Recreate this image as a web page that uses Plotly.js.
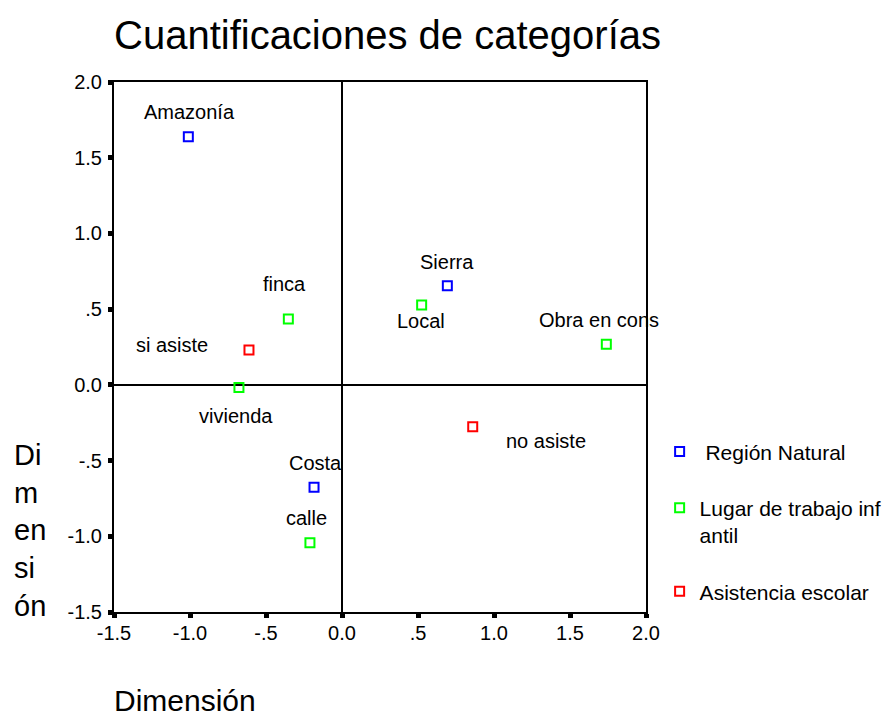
<!DOCTYPE html>
<html>
<head>
<meta charset="utf-8">
<script src="https://cdn.plot.ly/plotly-3.0.1.min.js"></script>
<style>html,body{margin:0;padding:0;background:#fff;}#chart{width:886px;height:718px;}</style>
</head>
<body>
<div id="chart"></div>
<script>
// ---- data ----
const regionLabels = ["Amazonía", "Sierra", "Costa"];
const regionX = [-1.011, 0.693, -0.184];
const regionY = [1.639, 0.655, -0.677];

const lugarLabels = ["finca", "Local", "Obra en cons", "vivienda", "calle"];
const lugarX = [-0.353, 0.524, 1.739, -0.678, -0.211];
const lugarY = [0.435, 0.527, 0.268, -0.017, -1.043];

const asistLabels = ["si asiste", "no asiste"];
const asistX = [-0.612, 0.860];
const asistY = [0.230, -0.277];

const seriesNames = [" Región Natural", "Lugar de trabajo inf<br>antil", "Asistencia escolar"];
const tickVals = [-1.5, -1.0, -0.5, 0.0, 0.5, 1.0, 1.5, 2.0];
const tickText = ["-1.5", "-1.0", "-.5", "0.0", ".5", "1.0", "1.5", "2.0"];

// ---- label offsets (screen px; styling only) ----
const regionOff = [[1, -25], [0, -24], [1, -24]];
const lugarOff = [[-4, -35], [-1, 16], [-7, -24], [-3, 29], [-3, -25]];
const asistOff = [[-77, -5], [73, 14]];

const colors = ["#0000ff", "#00ff00", "#ff0000"];
const FONT = "Liberation Sans, Arial, Helvetica, sans-serif";

const groups = [
  {x: regionX, y: regionY, labels: regionLabels, off: regionOff},
  {x: lugarX, y: lugarY, labels: lugarLabels, off: lugarOff},
  {x: asistX, y: asistY, labels: asistLabels, off: asistOff}
];

const traces = groups.map((g, i) => ({
  type: "scatter",
  mode: "markers",
  x: g.x,
  y: g.y,
  name: seriesNames[i],
  legendgroup: "g" + i,
  text: g.labels,
  hoverinfo: "text",
  marker: {symbol: "square-open", size: 9, color: colors[i], line: {width: 2, color: colors[i]}}
}));

const annotations = [];
groups.forEach(g => {
  g.labels.forEach((lab, j) => {
    annotations.push({
      x: g.x[j], y: g.y[j], xref: "x", yref: "y",
      text: lab, showarrow: false,
      xanchor: "center", yanchor: "middle",
      xshift: g.off[j][0], yshift: -g.off[j][1],
      font: {family: FONT, size: 20, color: "#000"}
    });
  });
});

// axis titles
annotations.push({
  xref: "paper", yref: "paper", x: 0, y: 0,
  xanchor: "left", yanchor: "middle", xshift: -2, yshift: -88,
  text: "Dimensión", showarrow: false,
  font: {family: FONT, size: 30, color: "#000"}
});
annotations.push({
  xref: "paper", yref: "paper", x: 0, y: 0,
  xanchor: "left", yanchor: "middle", xshift: -102, yshift: 82,
  align: "left",
  text: "Di<br>m<br>en<br>si<br>ón", showarrow: false,
  font: {family: FONT, size: 29, color: "#000"}
});

const axisCommon = {
  range: [-1.5, 2.0],
  tickmode: "array",
  tickvals: tickVals,
  ticktext: tickText,
  ticks: "outside",
  ticklen: 4,
  tickwidth: 5,
  tickcolor: "#000",
  showline: true,
  linecolor: "#000",
  linewidth: 2,
  mirror: true,
  zeroline: true,
  zerolinecolor: "#000",
  zerolinewidth: 1.5,
  showgrid: false,
  tickfont: {family: FONT, size: 20, color: "#000"},
  fixedrange: true,
  automargin: false
};

const layout = {
  width: 886,
  height: 718,
  margin: {l: 114, r: 240, t: 82, b: 106, pad: 0, autoexpand: false},
  paper_bgcolor: "#fff",
  plot_bgcolor: "#fff",
  font: {family: FONT, color: "#000"},
  title: {
    text: "Cuantificaciones de categorías",
    font: {family: FONT, size: 40, color: "#000"},
    xref: "paper", x: 0, xanchor: "left",
    yref: "container", y: 1 - 35 / 718, yanchor: "middle"
  },
  xaxis: Object.assign({}, axisCommon, {ticklabelstandoff: -2}),
  yaxis: Object.assign({}, axisCommon, {ticklabelstandoff: 2}),
  showlegend: true,
  legend: {
    x: 1.0256, xanchor: "left",
    y: 0.341, yanchor: "top",
    traceorder: "grouped",
    tracegroupgap: 26,
    valign: "top",
    font: {family: FONT, size: 21, color: "#000"},
    bgcolor: "rgba(0,0,0,0)",
    borderwidth: 0
  },
  annotations: annotations
};

Plotly.newPlot("chart", traces, layout, {displayModeBar: false, staticPlot: true});
</script>
</body>
</html>
